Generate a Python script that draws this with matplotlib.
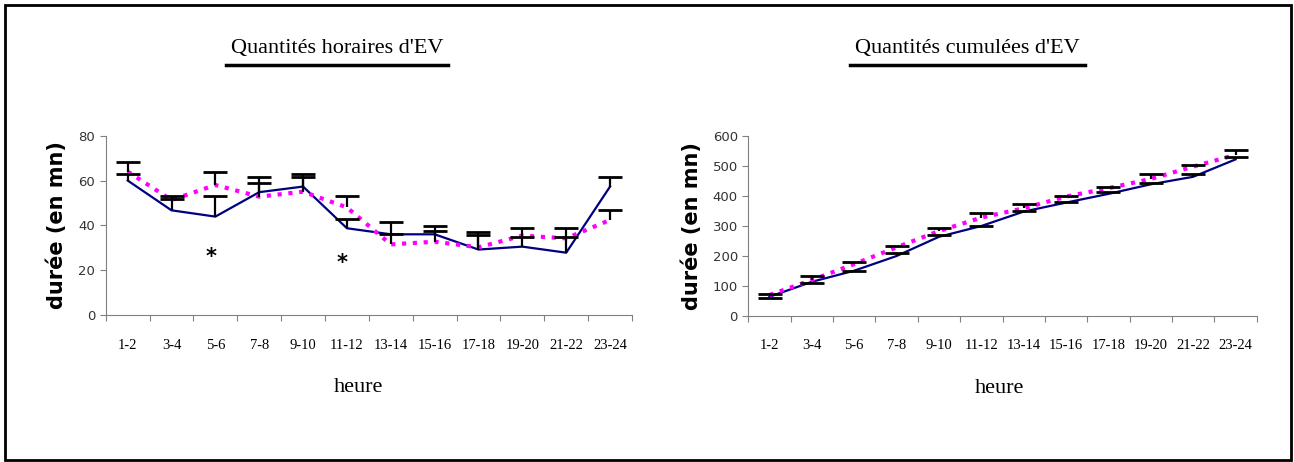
import matplotlib.pyplot as plt
from matplotlib.lines import Line2D
from matplotlib.patches import Rectangle

heures = ["1-2", "3-4", "5-6", "7-8", "9-10", "11-12", "13-14", "15-16",
          "17-18", "19-20", "21-22", "23-24"]

# quantites horaires
hor_bleu = [60, 46.7, 43.9, 54.8, 57.3, 38.7, 36.0, 36.0, 29.2, 30.5, 27.8, 57.3]
hor_rose = [64, 51.3, 58, 52.8, 55, 48, 31.5, 32.7, 30.2, 35.4, 34.2, 42.4]
hor_bleu_err = [62.9, 53.1, 53.3, 58.8, 61.5, 42.7, 41.4, 39.9, 37.2, 34.7, 34.7, 61.5]
hor_rose_err = [68.2, 51.8, 64, 61.5, 62.9, 53.3, 36.0, 37.5, 35.7, 38.7, 38.7, 46.9]
etoiles_x = [2, 5]
etoiles_y = [26, 23]

# quantites cumulees
cum_bleu = [63, 113, 150, 199, 263, 299, 347, 377, 406, 438, 463, 521]
cum_rose = [69, 119, 172, 228, 282, 327, 358, 397, 425, 456, 497, 536]
cum_bleu_err = [60, 110, 150, 210, 269, 299, 350, 380, 411, 441, 471, 530]
cum_rose_err = [71, 132, 180, 232, 291, 341, 371, 400, 430, 471, 502, 552]

plt.rcParams["font.family"] = "DejaVu Sans"
fig = plt.figure(figsize=(12.94, 4.62), dpi=100)
fig.add_artist(Rectangle((5 / 1294, 2 / 462), 1286 / 1294, 455 / 462,
                         transform=fig.transFigure, fill=False,
                         edgecolor="black", linewidth=2))

ax1 = fig.add_axes([0.0817, 0.3182, 0.4067, 0.3881])
ax2 = fig.add_axes([0.5783, 0.3167, 0.3929, 0.3896])

x = list(range(len(heures)))


def draw(ax, bleu, rose, bleu_err, rose_err, ymax, ystep, titre, tx0, tx1, lx):
    ax.plot(x, bleu, color="#000080", linewidth=1.6, zorder=3)
    ax.plot(x, rose, color="#ff00ff", linewidth=3, linestyle=(0, (1, 1.6)), zorder=3)
    for vals, errs in [(bleu, bleu_err), (rose, rose_err)]:
        ax.vlines(x, vals, errs, color="black", linewidth=1.6, zorder=4)
        ax.plot(x, errs, linestyle="none", marker="_", markersize=17,
                markeredgewidth=2, color="black", zorder=4)
    ax.set_xlim(-0.5, len(heures) - 0.5)
    ax.set_ylim(0, ymax)
    ax.set_yticks(range(0, ymax + 1, ystep))
    ax.set_xticks([i - 0.5 for i in range(len(heures) + 1)], minor=False)
    ax.set_xticklabels([])
    ax.set_xticks(x, minor=True)
    ax.set_xticklabels(heures, minor=True, fontsize=10.5, family="Liberation Serif")
    ax.tick_params(axis="x", which="minor", length=0, pad=17)
    ax.tick_params(axis="x", which="major", length=4, color="#808080")
    ax.tick_params(axis="y", length=4, labelsize=9.5, colors="#333333", color="#808080")
    for s in ["top", "right"]:
        ax.spines[s].set_visible(False)
    for s in ["left", "bottom"]:
        ax.spines[s].set_color("#808080")
    ax.set_ylabel("durée (en mn)", fontsize=15, fontweight="bold", labelpad=8)
    ax.set_xlabel("heure", fontsize=16, family="Liberation Serif")
    ax.xaxis.set_label_coords(lx, -0.35)
    cx = (tx0 + tx1) / 2 / 1294
    fig.text(cx, 1 - 48 / 462, titre, ha="center", va="center", fontsize=16,
             family="Liberation Serif")
    fig.add_artist(Line2D([tx0 / 1294, tx1 / 1294], [1 - 65 / 462, 1 - 65 / 462],
                          color="black", linewidth=2.5))


draw(ax1, hor_bleu, hor_rose, hor_bleu_err, hor_rose_err, 80, 20,
     "Quantités horaires d'EV", 226, 448, 0.48)
draw(ax2, cum_bleu, cum_rose, cum_bleu_err, cum_rose_err, 600, 100,
     "Quantités cumulées d'EV", 850, 1085, 0.494)

for ex, ey in zip(etoiles_x, etoiles_y):
    ax1.text(ex - 0.1, ey, "*", ha="center", va="center", fontsize=15,
             fontweight="bold")

fig.savefig("out.png", dpi=100)
